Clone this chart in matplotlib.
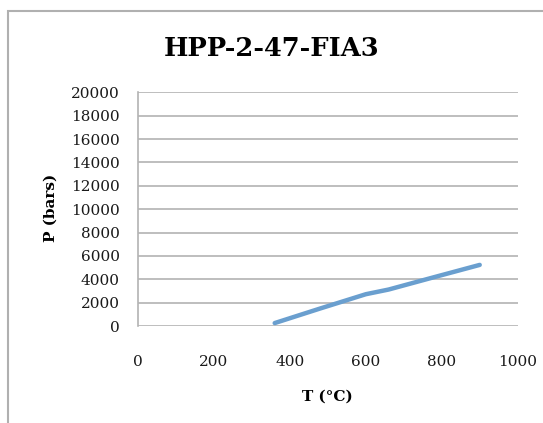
import matplotlib
matplotlib.use("Agg")
import matplotlib.pyplot as plt
from matplotlib.patches import Rectangle

# Temperature (°C) and pressure (bars) along the isochore
temperature = [360, 480, 600, 660, 780, 900]
pressure = [250, 1500, 2720, 3120, 4180, 5230]

x_ticks = [0, 200, 400, 600, 800, 1000]
y_ticks = list(range(0, 20001, 2000))

W, H = 543, 423
fig = plt.figure(figsize=(W / 100, H / 100), dpi=100)
serif = ["DejaVu Serif"]

# chart frame (open to the right and bottom)
fig.patches.append(Rectangle((8 / W, -0.1), 1.2, 1 - 11 / H + 0.1,
                             transform=fig.transFigure, fill=False,
                             edgecolor="#b0b0b0", linewidth=1.5))

left, right = 138 / W, 517.7 / W
bottom, top = 1 - 326 / H, 1 - 92.3 / H
ax = fig.add_axes([left, bottom, right - left, top - bottom])

ax.plot(temperature, pressure, color="#6a9fcf", linewidth=3.2,
        solid_capstyle="round", solid_joinstyle="round", zorder=3)

ax.set_xlim(0, 1000)
ax.set_ylim(0, 20000)
ax.set_xticks(x_ticks)
ax.set_yticks(y_ticks)
ax.grid(axis="y", color="#b3b3b3", linewidth=1.2)
ax.grid(axis="x", visible=False)
for side in ("top", "right", "bottom"):
    ax.spines[side].set_visible(False)
ax.spines["left"].set_color("#b3b3b3")
ax.spines["left"].set_linewidth(1.2)
ax.tick_params(axis="both", length=0)
ax.tick_params(axis="x", pad=21)
ax.tick_params(axis="y", pad=13)
for lbl in ax.get_xticklabels() + ax.get_yticklabels():
    lbl.set_fontfamily(serif)
    lbl.set_fontsize(11)
    lbl.set_color("#1a1a1a")

fig.text(0.5, 1 - 48 / H, "HPP-2-47-FIA3", ha="center", va="center",
         fontsize=18.5, fontweight="bold", family=serif)
fig.text(51 / W, 1 - 208 / H, "P (bars)", ha="center", va="center",
         rotation=90, fontsize=11, fontweight="bold", family=serif)
fig.text(327 / W, 1 - 397 / H, "T (°C)", ha="center", va="center",
         fontsize=11, fontweight="bold", family=serif)

fig.savefig("out.png", dpi=100)
